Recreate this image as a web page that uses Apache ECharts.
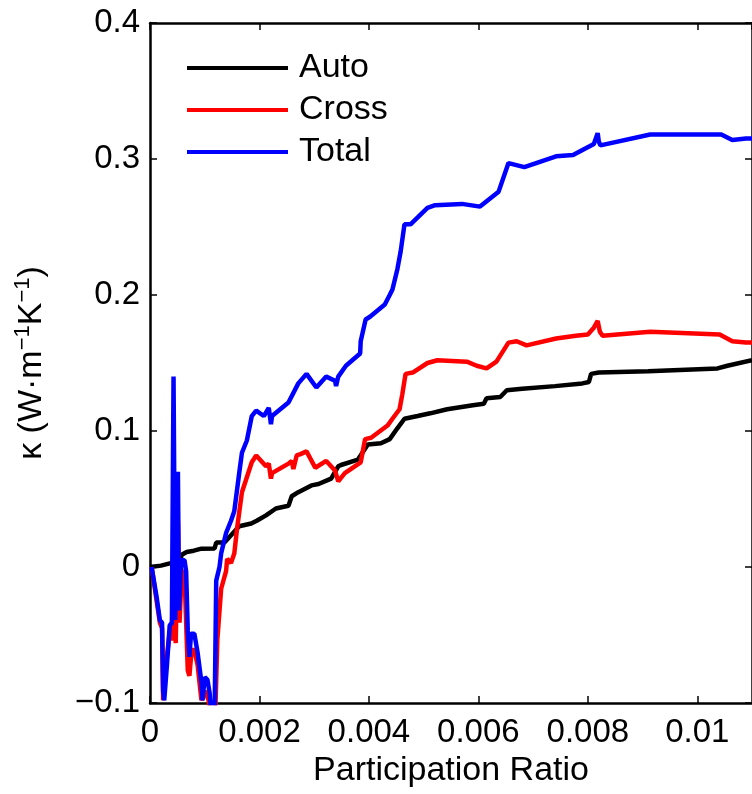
<!DOCTYPE html>
<html>
<head>
<meta charset="utf-8">
<script src="https://cdn.jsdelivr.net/npm/echarts@6/dist/echarts.min.js"></script>
<style>html,body{margin:0;padding:0;background:#fff}#c{width:752px;height:794px}</style>
</head>
<body>
<div id="c"></div>
<script>
const seriesNames = ['Auto', 'Cross', 'Total'];
const xTicks = [0, 0.002, 0.004, 0.006, 0.008, 0.01];
const yTicks = [-0.1, 0, 0.1, 0.2, 0.3, 0.4];

const autoX = [0, 0.0002, 0.0004, 0.00054, 0.00058, 0.00067, 0.0008, 0.00094, 0.00118, 0.00121, 0.00136, 0.00163, 0.00185, 0.00195, 0.00212, 0.0023, 0.00253, 0.00259, 0.00271, 0.00295, 0.00308, 0.00331, 0.00344, 0.00349, 0.0038, 0.00398, 0.00422, 0.00438, 0.00452, 0.00465, 0.00489, 0.00512, 0.00543, 0.0059, 0.0061, 0.00615, 0.0064, 0.00652, 0.0068, 0.0074, 0.0079, 0.00802, 0.00806, 0.0082, 0.0091, 0.01037, 0.01055, 0.011];
const autoY = [0, 0.001, 0.003, 0.003, 0.009, 0.011, 0.012, 0.0135, 0.0136, 0.018, 0.018, 0.03, 0.032, 0.034, 0.038, 0.043, 0.045, 0.052, 0.055, 0.06, 0.061, 0.065, 0.074, 0.075, 0.079, 0.09, 0.091, 0.094, 0.102, 0.109, 0.111, 0.113, 0.116, 0.119, 0.12, 0.124, 0.125, 0.13, 0.131, 0.133, 0.135, 0.136, 0.142, 0.143, 0.144, 0.146, 0.148, 0.152];

const crossX = [0.00003, 0.00018, 0.00022, 0.00024, 0.00029, 0.00036, 0.0004, 0.00043, 0.00047, 0.00051, 0.00054, 0.00058, 0.00063, 0.00069, 0.00072, 0.00076, 0.00081, 0.00087, 0.00094, 0.001, 0.00107, 0.00112, 0.00119, 0.00123, 0.0013, 0.00139, 0.00141, 0.00148, 0.00154, 0.00159, 0.00168, 0.00177, 0.00186, 0.00194, 0.00212, 0.00217, 0.00221, 0.00223, 0.00253, 0.00259, 0.00262, 0.00268, 0.00275, 0.00286, 0.00302, 0.00322, 0.00338, 0.00344, 0.00356, 0.00385, 0.00393, 0.00404, 0.00434, 0.00443, 0.00456, 0.00461, 0.00467, 0.0048, 0.00507, 0.00525, 0.00579, 0.00597, 0.00615, 0.00633, 0.00655, 0.0067, 0.00688, 0.00742, 0.00778, 0.008, 0.00811, 0.00818, 0.00822, 0.00827, 0.00914, 0.01041, 0.01064, 0.01089, 0.011];
const crossY = [0, -0.041, -0.045, -0.098, -0.072, -0.048, -0.054, 0.034, -0.056, 0.034, -0.041, -0.003, -0.004, -0.076, -0.08, -0.061, -0.061, -0.072, -0.098, -0.091, -0.098, -0.112, -0.112, -0.054, -0.016, -0.003, 0.006, 0.003, 0.010, 0.028, 0.055, 0.066, 0.077, 0.082, 0.074, 0.076, 0.065, 0.069, 0.076, 0.078, 0.072, 0.082, 0.083, 0.085, 0.073, 0.078, 0.071, 0.063, 0.069, 0.077, 0.094, 0.095, 0.104, 0.109, 0.116, 0.127, 0.142, 0.143, 0.15, 0.152, 0.151, 0.148, 0.146, 0.151, 0.165, 0.166, 0.163, 0.168, 0.17, 0.171, 0.176, 0.181, 0.173, 0.170, 0.173, 0.171, 0.166, 0.165, 0.165];

const totalX = [0.00003, 0.00012, 0.00018, 0.00022, 0.00024, 0.00026, 0.00031, 0.00036, 0.0004, 0.00043, 0.00046, 0.00051, 0.00053, 0.00057, 0.00063, 0.00066, 0.00069, 0.00072, 0.00075, 0.00081, 0.00087, 0.00094, 0.00096, 0.001, 0.00105, 0.00109, 0.00112, 0.00118, 0.00121, 0.00127, 0.0013, 0.00139, 0.00148, 0.00154, 0.00163, 0.00168, 0.00177, 0.00186, 0.00194, 0.00208, 0.00217, 0.00221, 0.00223, 0.00253, 0.00271, 0.00286, 0.00304, 0.00322, 0.00338, 0.0034, 0.00344, 0.00358, 0.00384, 0.00385, 0.00394, 0.00402, 0.00429, 0.00438, 0.00443, 0.00452, 0.00458, 0.00465, 0.00476, 0.00507, 0.00521, 0.0057, 0.00603, 0.00637, 0.00655, 0.00684, 0.00742, 0.00773, 0.00811, 0.00818, 0.0082, 0.00823, 0.00914, 0.01044, 0.01064, 0.01089, 0.011];
const totalY = [0, -0.022, -0.039, -0.041, -0.091, -0.098, -0.072, -0.043, -0.041, 0.14, -0.039, 0.07, -0.032, 0.005, 0.005, -0.003, -0.047, -0.066, -0.049, -0.049, -0.063, -0.085, -0.098, -0.081, -0.083, -0.093, -0.109, -0.109, -0.01, 0, 0.01, 0.025, 0.034, 0.041, 0.069, 0.084, 0.093, 0.111, 0.115, 0.111, 0.117, 0.105, 0.111, 0.121, 0.135, 0.142, 0.132, 0.140, 0.137, 0.133, 0.140, 0.148, 0.157, 0.166, 0.182, 0.184, 0.193, 0.2, 0.204, 0.219, 0.232, 0.252, 0.252, 0.264, 0.266, 0.267, 0.265, 0.276, 0.297, 0.294, 0.302, 0.303, 0.311, 0.319, 0.313, 0.31, 0.318, 0.318, 0.314, 0.315, 0.315];

const zip = (xs, ys) => xs.map((x, i) => [x, ys[i]]);
const FONT = '"Liberation Sans", Arial, Helvetica, sans-serif';
const fmt = v => {
  const s = String(+v.toFixed(4));
  return s.replace('-', '\u2212');
};

const chart = echarts.init(document.getElementById('c'), null, {renderer: 'canvas'});
const axisLine = {show: true, onZero: false, lineStyle: {color: '#000', width: 2.5}};
const tick = {show: true, inside: true, length: 7, lineStyle: {color: '#000', width: 1.5}};
const LW = 4.5;
chart.setOption({
  backgroundColor: '#fff',
  animation: false,
  grid: {left: 150, top: 23, width: 608, height: 680},
  legend: {
    data: seriesNames,
    orient: 'vertical',
    left: 182, top: 46,
    itemWidth: 101, itemHeight: 4, itemGap: 8,
    icon: 'rect',
    textStyle: {fontFamily: FONT, fontSize: 34, color: '#000', padding: [0, 0, 0, 6]}
  },
  xAxis: [{
    type: 'value', min: 0, max: 0.011, interval: 0.002,
    axisLine, axisTick: tick, splitLine: {show: false},
    axisLabel: {fontFamily: FONT, fontSize: 33, color: '#000', margin: 13, showMaxLabel: false, formatter: fmt},
    name: 'Participation Ratio', nameLocation: 'middle', nameGap: 49,
    nameTextStyle: {fontFamily: FONT, fontSize: 34, color: '#000'}
  }, {
    type: 'value', position: 'top', min: 0, max: 0.011, interval: 0.002,
    axisLine, axisTick: tick, splitLine: {show: false}, axisLabel: {show: false}
  }],
  yAxis: [{
    type: 'value', min: -0.1, max: 0.4, interval: 0.1,
    axisLine, axisTick: tick, splitLine: {show: false},
    axisLabel: {fontFamily: FONT, fontSize: 33, color: '#000', margin: 10, formatter: fmt},
    name: '{a|\u03BA (W\u00B7m}{b|\u22121}{a|K}{b|\u22121}{a|)}',
    nameLocation: 'middle', nameGap: 98, nameRotate: 90,
    nameTextStyle: {
      fontFamily: FONT, color: '#000',
      rich: {
        a: {fontFamily: FONT, fontSize: 34, color: '#000', lineHeight: 40},
        b: {fontFamily: FONT, fontSize: 22, color: '#000', lineHeight: 22, verticalAlign: 'top'}
      }
    }
  }, {
    type: 'value', position: 'right', min: -0.1, max: 0.4, interval: 0.1,
    axisLine, axisTick: tick, splitLine: {show: false}, axisLabel: {show: false}
  }],
  series: [
    {name: 'Auto', type: 'line', data: zip(autoX, autoY), symbol: 'none', clip: true,
     lineStyle: {color: '#000', width: LW}, itemStyle: {color: '#000'}},
    {name: 'Cross', type: 'line', data: zip(crossX, crossY), symbol: 'none', clip: true,
     lineStyle: {color: '#ff0000', width: LW}, itemStyle: {color: '#ff0000'}},
    {name: 'Total', type: 'line', data: zip(totalX, totalY), symbol: 'none', clip: true,
     lineStyle: {color: '#0000ff', width: LW}, itemStyle: {color: '#0000ff'}}
  ]
});
</script>
</body>
</html>
